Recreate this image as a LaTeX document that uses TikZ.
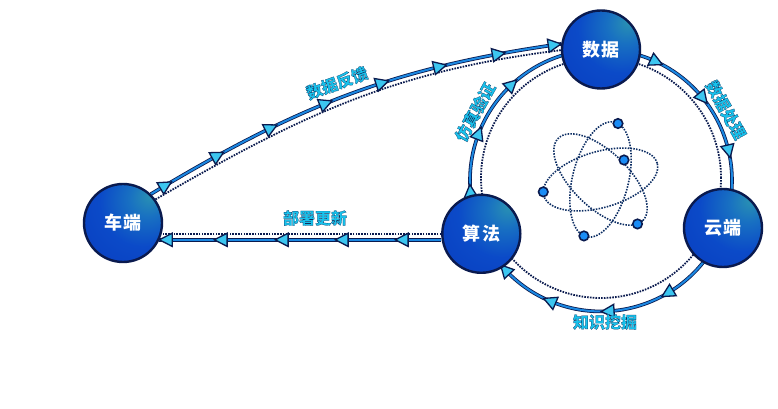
\documentclass[tikz,border=0pt]{standalone}
\usepackage{fontspec}
\setmainfont{Noto Sans CJK SC}
\newfontfamily\lblfont[FakeBold=1.2]{Noto Sans CJK SC}
\usetikzlibrary{decorations.markings,calc}
\definecolor{navy}{HTML}{0A1A4E}
\definecolor{ringblue}{HTML}{1B88E2}
\definecolor{trifill}{HTML}{3CC6F0}
\definecolor{lblcyan}{HTML}{18C2EC}
\definecolor{balllight}{HTML}{2A92B2}
\definecolor{ballmidA}{HTML}{1870C2}
\definecolor{ballmid}{HTML}{0B4AC8}
\definecolor{balldarkA}{HTML}{0838BC}
\definecolor{balldark}{HTML}{0632B0}
\definecolor{atomnavy}{HTML}{0C2D63}
\definecolor{electron}{HTML}{1A8CF5}
\pgfdeclarelayer{bg}
\pgfsetlayers{bg,main}
\pgfdeclareradialshading{ballshade}{\pgfpoint{18bp}{18bp}}{color(0bp)=(balllight); color(12bp)=(ballmidA); color(28bp)=(ballmid); color(60bp)=(balldarkA); color(100bp)=(balldark)}
\newcommand\mytri{\filldraw[fill=trifill,draw=navy,line width=1.3pt,line join=miter] (6.8pt,0pt) -- (-6pt,6.6pt) -- (-6pt,-6.6pt) -- cycle;}
\newcommand\ostroke{\special{pdf:literal direct 0.039 0.180 0.361 RG}}
\begin{document}
\begin{tikzpicture}[x=1pt,y=1pt,
  ball/.style={circle, minimum size=78pt, inner sep=0pt, draw=navy, line width=2.4pt,
    shading=ballshade, text=white, font=\fontsize{18}{18}\selectfont\bfseries},
  link/.style={draw=ringblue, line width=2pt, preaction={draw=navy, line width=3.6pt}},
  dots/.style={draw=navy, line width=1.8pt, dash pattern=on 1.6pt off 1.2pt},
  atomline/.style={draw=atomnavy, line width=1.6pt, dash pattern=on 1.5pt off 1.3pt},
  electronball/.style={circle, minimum size=9.5pt, inner sep=0pt, fill=electron, draw=navy, line width=1.6pt},
  tri at/.style={postaction={decorate, decoration={markings, mark=at position #1 with {\mytri}}}},
  lbl/.style={inner sep=0pt, text=lblcyan, font=\lblfont\bfseries\fontsize{16}{16}\selectfont}
]
\useasboundingbox (0,0) rectangle (778,409);

\node[ball] (chedu) at (123,186) {车\hspace{1.5pt}端};
\node[ball] (shuju) at (601,359.5) {数\hspace{1.5pt}据};
\node[ball] (yun) at (723,181) {云\hspace{1.5pt}端};
\node[ball] (suanfa) at (481.3,175.2) {算\hspace{1.5pt}法};
\coordinate (Od) at (601,231);
\coordinate (atom) at (600.5,229.5);

\begin{pgfonlayer}{bg}
  \fill[white] (0,0) rectangle (778,409);
  % dotted companions
  \draw[dots] (Od) circle[radius=120];
  \draw[dots] (chedu.36) to[out=30,in=187] (shuju.181);
  \draw[dots] (suanfa.west) -- (suanfa.west -| chedu.east);
  % ring arcs (clockwise)
  \draw[link, tri at=57pt, tri at=116.5pt, tri at=176pt]
    (shuju.center) arc[start angle=90, end angle=-21.3, radius=131];
  \draw[link, tri at=87pt, tri at=150pt, tri at=209.5pt, tri at=264.5pt]
    (yun.center) arc[start angle=-21.3, end angle=-156, radius=131];
  \draw[link, tri at=44pt, tri at=103pt, tri at=162.5pt]
    (suanfa.center) arc[start angle=204, end angle=90, radius=131];
  % car -> data
  \draw[link, tri at=17pt, tri at=77pt, tri at=137pt, tri at=197pt, tri at=257pt,
        tri at=317pt, tri at=377pt, tri at=-7pt]
    (chedu.46) to[out=31,in=188] (shuju.172);
  % algorithm -> car
  \draw[link, tri at=39pt, tri at=99pt, tri at=159pt, tri at=220pt, tri at=-7pt]
    ([yshift=-6pt]suanfa.west) -- ([xshift=-4pt,yshift=-6pt]suanfa.west -| chedu.east);
\end{pgfonlayer}

% atom
\foreach \r in {16,76,-44}
  \draw[atomline, rotate around={\r:(atom)}] (atom) ellipse[x radius=59, y radius=28];
\begin{scope}[shift={(atom)}]
  \begin{scope}[rotate=16]
    \node[electronball] (e1) at (172:59 and 28) {};
  \end{scope}
  \begin{scope}[rotate=76]
    \node[electronball] (e2) at (-7:59 and 28) {};
    \node[electronball] (e3) at (175:59 and 28) {};
  \end{scope}
  \begin{scope}[rotate=-44]
    \node[electronball] (e4) at (-13:59 and 28) {};
  \end{scope}
\end{scope}
\node[electronball] (e5) at (624,249) {};

% labels
\node[lbl, rotate=20] (lfk) at (337,326) {\ostroke 数据反馈};
\node[lbl] (lbs) at (315,191) {\ostroke 部署更新};
\node[lbl, rotate=61] (lfz) at (475,297) {\ostroke 仿真验证};
\node[lbl, rotate=-61] (lcl) at (726,299) {\ostroke 数据处理};
\node[lbl] (lwj) at (605,87) {\ostroke 知识挖掘};
\end{tikzpicture}
\end{document}
